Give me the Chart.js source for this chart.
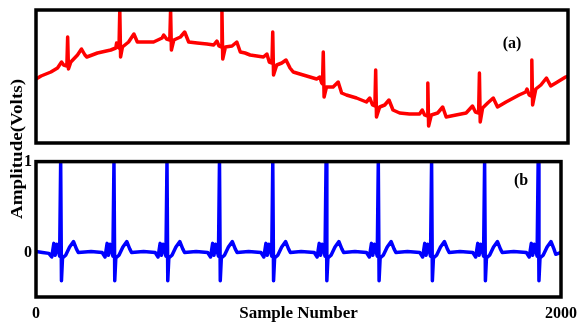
<!DOCTYPE html>
<html>
<head>
<meta charset="utf-8">
<script src="https://cdn.jsdelivr.net/npm/chart.js@4.4.1/dist/chart.umd.min.js"></script>
<style>
  body { margin: 0; background: #fff; width: 584px; height: 322px; overflow: hidden; position: relative; }
  canvas { position: absolute; left: 0; }
  #ylabel {
    position: absolute; left: 17px; top: 149px;
    transform: translate(-50%, -50%) rotate(-90deg) scaleX(1.19);
    font: bold 16px 'Liberation Serif', 'Times New Roman', serif;
    white-space: nowrap; color: #000;
  }
</style>
</head>
<body>
<canvas id="topChart" width="584" height="148" style="top:0"></canvas>
<canvas id="bottomChart" width="584" height="174" style="top:148px"></canvas>
<div id="ylabel">Amplitude(Volts)</div>
<script>
// (a) noisy ECG with baseline wander
const redX = [0, 19, 56, 81, 96, 104, 116, 119, 122, 131, 156, 171, 184, 191,
  231, 281, 300, 303, 308, 312, 315, 318, 325, 348, 368, 381, 393,
  442, 474, 480, 491, 503, 506, 509, 518, 543, 559, 574,
  606, 643, 668, 680, 688, 696, 699, 702, 712, 737, 755, 768, 786, 805,
  855, 868, 877, 887, 890, 893, 905, 924, 940, 955, 967,
  992, 1030, 1055, 1067, 1074, 1077, 1080, 1083, 1092, 1117, 1136, 1149, 1167,
  1205, 1242, 1255, 1265, 1274, 1277, 1280, 1292, 1311, 1327, 1342, 1367,
  1404, 1442, 1452, 1461, 1470, 1473, 1476, 1486, 1510, 1529, 1542,
  1579, 1617, 1641, 1652, 1664, 1667, 1670, 1679, 1698, 1719, 1735,
  1767, 1816, 1841, 1846, 1854, 1861, 1864, 1867, 1879, 1898, 1919, 1935, 1954, 1991, 2000];
const redY = [0.64, 0.67, 0.71, 0.75, 0.81, 0.78, 0.77, 1.06, 0.74, 0.81, 0.88, 0.94, 0.88, 0.86,
  0.90, 0.93, 0.95, 1.00, 0.96, 0.95, 1.33, 0.86, 0.96, 1.01, 1.09, 1.01, 1.01,
  1.01, 1.05, 1.08, 1.04, 1.03, 1.33, 0.93, 1.03, 1.06, 1.11, 1.01,
  1.00, 0.99, 0.98, 1.02, 0.97, 0.96, 1.33, 0.84, 0.96, 0.97, 1.01, 0.91, 0.90, 0.88,
  0.86, 0.89, 0.81, 0.80, 1.11, 0.68, 0.78, 0.80, 0.83, 0.75, 0.71,
  0.69, 0.66, 0.64, 0.66, 0.60, 0.59, 0.91, 0.46, 0.56, 0.56, 0.61, 0.50, 0.48,
  0.45, 0.41, 0.45, 0.38, 0.37, 0.73, 0.26, 0.36, 0.38, 0.43, 0.33, 0.30,
  0.29, 0.29, 0.33, 0.28, 0.27, 0.60, 0.17, 0.28, 0.30, 0.36, 0.26,
  0.28, 0.30, 0.37, 0.31, 0.30, 0.70, 0.21, 0.35, 0.40, 0.45, 0.36,
  0.41, 0.48, 0.51, 0.54, 0.48, 0.47, 0.83, 0.38, 0.54, 0.58, 0.65, 0.57, 0.60, 0.66, 0.67];

// (b) clean ECG
const blueX = [0, 25, 49, 60, 68, 73, 79, 90, 94, 97, 101, 113, 128, 143, 154, 161, 210,
  252, 263, 271, 276, 282, 293, 297, 300, 304, 316, 331, 346, 357, 364, 410,
  454, 465, 473, 478, 484, 495, 499, 502, 506, 518, 533, 548, 559, 566, 610,
  654, 665, 673, 678, 684, 695, 699, 702, 706, 718, 733, 748, 759, 766, 810,
  857, 868, 876, 881, 887, 898, 902, 905, 909, 921, 936, 951, 962, 969, 1010,
  1060, 1071, 1079, 1084, 1090, 1101, 1105, 1108, 1112, 1124, 1139, 1154, 1165, 1172, 1215,
  1259, 1270, 1278, 1283, 1289, 1300, 1304, 1307, 1311, 1323, 1338, 1353, 1364, 1371, 1415,
  1462, 1473, 1481, 1486, 1492, 1503, 1507, 1510, 1514, 1526, 1541, 1556, 1567, 1574, 1615,
  1664, 1675, 1683, 1688, 1694, 1705, 1709, 1712, 1716, 1728, 1743, 1758, 1769, 1776, 1820,
  1868, 1879, 1887, 1892, 1898, 1909, 1913, 1916, 1920, 1932, 1947, 1962, 1973, 1980, 2000];
const blueY = [0.01, 0.0, -0.01, -0.05, 0.10, -0.03, 0.09, -0.04, 1.0, -0.31, -0.06, -0.03, 0.06, 0.12, 0.04, 0.0, 0.01,
  0.0, -0.05, 0.10, -0.03, 0.09, -0.04, 1.0, -0.31, -0.06, -0.03, 0.06, 0.12, 0.04, 0.0, 0.01,
  0.0, -0.05, 0.10, -0.03, 0.09, -0.04, 1.0, -0.31, -0.06, -0.03, 0.06, 0.12, 0.04, 0.0, 0.01,
  0.0, -0.05, 0.10, -0.03, 0.09, -0.04, 1.0, -0.31, -0.06, -0.03, 0.06, 0.12, 0.04, 0.0, 0.01,
  0.0, -0.05, 0.10, -0.03, 0.09, -0.04, 1.0, -0.31, -0.06, -0.03, 0.06, 0.12, 0.04, 0.0, 0.01,
  0.0, -0.05, 0.10, -0.03, 0.09, -0.04, 1.0, -0.31, -0.06, -0.03, 0.06, 0.12, 0.04, 0.0, 0.01,
  0.0, -0.05, 0.10, -0.03, 0.09, -0.04, 1.0, -0.31, -0.06, -0.03, 0.06, 0.12, 0.04, 0.0, 0.01,
  0.0, -0.05, 0.10, -0.03, 0.09, -0.04, 1.0, -0.31, -0.06, -0.03, 0.06, 0.12, 0.04, 0.0, 0.01,
  0.0, -0.05, 0.10, -0.03, 0.09, -0.04, 1.0, -0.31, -0.06, -0.03, 0.06, 0.12, 0.04, 0.0, 0.01,
  0.0, -0.05, 0.10, -0.03, 0.09, -0.04, 1.0, -0.31, -0.06, -0.03, 0.06, 0.12, 0.04, -0.02, 0.0];

const xTicks = [0, 2000];
const yTicks = [0, 1];

const serif = "'Liberation Serif', 'Times New Roman', serif";
const tickFont = { family: serif, size: 16, weight: 'bold' };

// draws the black frame round each panel and its (a)/(b) tag
const panelBox = {
    id: 'panelBox',
    afterDraw(chart, args, opts) {
        const { ctx, chartArea: a } = chart;
        ctx.save();
        ctx.lineWidth = 3.5;
        ctx.strokeStyle = '#000';
        ctx.strokeRect(a.left, a.top, a.right - a.left, a.bottom - a.top);
        ctx.fillStyle = '#000';
        ctx.font = 'bold 16px ' + serif;
        ctx.textAlign = 'center';
        ctx.textBaseline = 'middle';
        ctx.fillText(opts.label, opts.x, opts.y);
        ctx.restore();
    }
};

function toPoints(xs, ys) {
    return xs.map((x, i) => ({ x: x, y: ys[i] }));
}

const lineStyle = {
    borderWidth: 3.5,
    pointRadius: 0,
    tension: 0,
    borderJoinStyle: 'round',
    borderCapStyle: 'round',
};

new Chart(document.getElementById('topChart'), {
    type: 'line',
    data: {
        datasets: [Object.assign({ data: toPoints(redX, redY), borderColor: '#ff0000' }, lineStyle)],
    },
    options: {
        responsive: false,
        animation: false,
        layout: { padding: { left: 36, right: 16, top: 10, bottom: 5 } },
        plugins: {
            legend: { display: false },
            tooltip: { enabled: false },
            panelBox: { label: '(a)', x: 512, y: 44 },
        },
        scales: {
            x: { type: 'linear', min: 0, max: 2000, display: false },
            y: { min: 0, max: 1.33, display: false },
        },
    },
    plugins: [panelBox],
});

new Chart(document.getElementById('bottomChart'), {
    type: 'line',
    data: {
        datasets: [Object.assign({ data: toPoints(blueX, blueY), borderColor: '#0000ff' }, lineStyle)],
    },
    options: {
        responsive: false,
        animation: false,
        layout: { padding: { left: 0, right: 16, top: 4, bottom: 0 } },
        plugins: {
            legend: { display: false },
            tooltip: { enabled: false },
            panelBox: { label: '(b', x: 521, y: 33 },
        },
        scales: {
            x: {
                type: 'linear', min: 0, max: 2000,
                grid: { display: false, drawTicks: false },
                border: { display: false },
                afterBuildTicks: (s) => { s.ticks = xTicks.map(v => ({ value: v })); },
                ticks: {
                    font: tickFont, color: '#000', padding: 7, maxRotation: 0, autoSkip: false,
                    callback: (v) => String(v),
                },
                title: {
                    display: true, text: 'Sample Number', color: '#000', padding: { top: 0, bottom: -2 },
                    font: { family: serif, size: 17, weight: 'bold' },
                },
                afterFit: (s) => { s.height = 25; },
            },
            y: {
                min: -0.49, max: 1,
                grid: { display: false, drawTicks: false },
                border: { display: false },
                afterBuildTicks: (s) => { s.ticks = yTicks.map(v => ({ value: v })); },
                ticks: { font: tickFont, color: '#000', padding: 4, callback: (v) => String(v) },
                afterFit: (s) => { s.width = 36; },
            },
        },
    },
    plugins: [panelBox],
});
</script>
</body>
</html>
